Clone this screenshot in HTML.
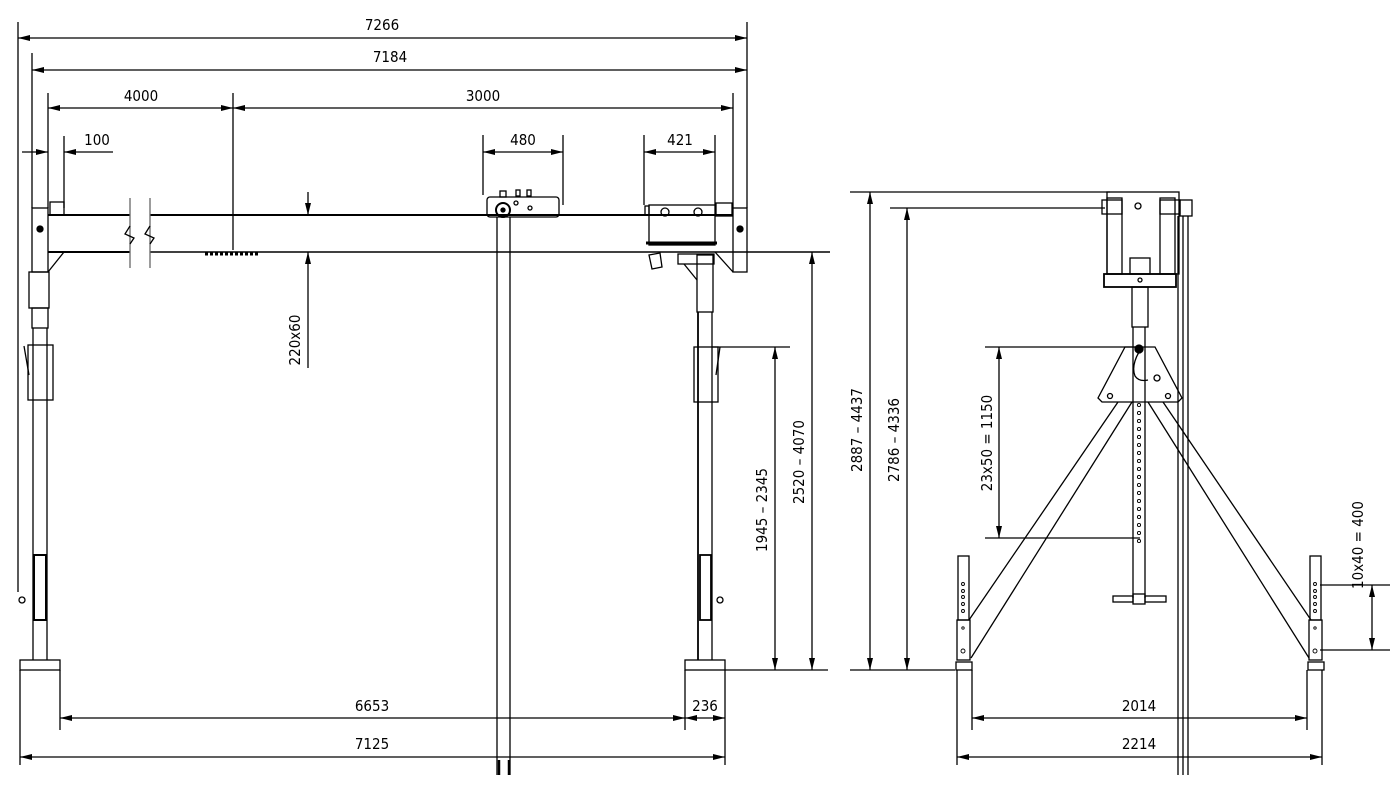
<!DOCTYPE html>
<html><head><meta charset="utf-8"><style>
html,body{margin:0;padding:0;background:#fff;}
svg{display:block}
text{font-family:"DejaVu Sans Condensed","Liberation Sans",sans-serif;font-size:15px;fill:#000;}
</style></head><body>
<svg width="1400" height="800" viewBox="0 0 1400 800" xmlns="http://www.w3.org/2000/svg">
<defs>
<marker id="a" viewBox="0 0 12 6" refX="12" refY="3" markerWidth="12" markerHeight="6" orient="auto-start-reverse" markerUnits="userSpaceOnUse"><path d="M0,0 L12,3 L0,6 z" fill="#000"/></marker>
</defs>
<g stroke="#000" stroke-width="1.3" fill="none">
<!-- extension lines top -->
<line x1="18" y1="22" x2="18" y2="592"/>
<line x1="32" y1="53" x2="32" y2="208"/>
<line x1="48" y1="93" x2="48" y2="208"/>
<line x1="64" y1="136" x2="64" y2="208"/>
<line x1="233" y1="93" x2="233" y2="250"/>
<line x1="733" y1="93" x2="733" y2="208"/>
<line x1="747" y1="22" x2="747" y2="208"/>
<line x1="483" y1="135" x2="483" y2="195"/>
<line x1="563" y1="135" x2="563" y2="205"/>
<line x1="644" y1="135" x2="644" y2="205"/>
<line x1="715" y1="135" x2="715" y2="205"/>
<!-- top dims -->
<line x1="18" y1="38" x2="747" y2="38" marker-start="url(#a)" marker-end="url(#a)"/>
<line x1="32" y1="70" x2="747" y2="70" marker-start="url(#a)" marker-end="url(#a)"/>
<line x1="48" y1="108" x2="233" y2="108" marker-start="url(#a)" marker-end="url(#a)"/>
<line x1="233" y1="108" x2="733" y2="108" marker-start="url(#a)" marker-end="url(#a)"/>
<line x1="22" y1="152" x2="48" y2="152" marker-end="url(#a)"/>
<line x1="113" y1="152" x2="64" y2="152" marker-end="url(#a)"/>
<line x1="483" y1="152" x2="563" y2="152" marker-start="url(#a)" marker-end="url(#a)"/>
<line x1="644" y1="152" x2="715" y2="152" marker-start="url(#a)" marker-end="url(#a)"/>
<!-- beam -->
<line x1="48" y1="215" x2="130" y2="215" stroke-width="2"/>
<line x1="150" y1="215" x2="733" y2="215" stroke-width="2"/>
<line x1="48" y1="252" x2="130" y2="252" stroke-width="2"/>
<line x1="150" y1="252" x2="830" y2="252" stroke-width="1.6"/>
<line x1="130" y1="198" x2="130" y2="268" stroke="#666"/>
<line x1="150" y1="198" x2="150" y2="268" stroke="#666"/>
<polyline points="130,226 125,234 134,238 130,244"/>
<polyline points="150,226 145,234 154,238 150,244"/>
<line x1="205" y1="254" x2="260" y2="254" stroke-width="3" stroke-dasharray="3,2"/>
<!-- left end -->
<rect x="32" y="208" width="16" height="64"/>
<circle cx="40" cy="229" r="3" fill="#000"/>
<rect x="50" y="202" width="14" height="13"/>
<line x1="48" y1="272" x2="64" y2="252"/>
<rect x="29" y="272" width="20" height="36"/>
<rect x="32" y="308" width="16" height="20"/>
<line x1="33" y1="328" x2="33" y2="660"/>
<line x1="47" y1="328" x2="47" y2="660"/>
<rect x="28" y="345" width="25" height="55"/>
<line x1="24" y1="346" x2="29" y2="375"/>
<rect x="34" y="555" width="12" height="65" stroke-width="2"/>
<rect x="20" y="660" width="40" height="10"/>
<circle cx="22" cy="600" r="3"/>
<!-- right end plate -->
<rect x="733" y="208" width="14" height="64"/>
<circle cx="740" cy="229" r="3" fill="#000"/>
<rect x="716" y="203" width="16" height="13"/>
<line x1="715" y1="252" x2="733" y2="272"/>
<!-- trolley -->
<rect x="487" y="197" width="72" height="20" rx="3"/>
<circle cx="503" cy="210" r="7" stroke-width="2"/>
<circle cx="503" cy="210" r="2" fill="#000"/>
<rect x="500" y="191" width="6" height="6"/>
<rect x="516" y="190" width="4" height="6"/>
<rect x="527" y="190" width="4" height="6"/>
<circle cx="516" cy="203" r="2"/>
<circle cx="530" cy="208" r="2"/>
<line x1="497" y1="217" x2="497" y2="775"/>
<line x1="510" y1="217" x2="510" y2="775"/>
<line x1="499" y1="760" x2="499" y2="775" stroke-width="2.5"/>
<line x1="509" y1="760" x2="509" y2="775" stroke-width="2.5"/>
<!-- hoist -->
<rect x="649" y="205" width="66" height="40"/>
<rect x="645" y="206" width="4" height="9"/>
<circle cx="665" cy="212" r="4"/>
<circle cx="698" cy="212" r="4"/>
<line x1="646" y1="243" x2="717" y2="243" stroke-width="3"/>
<rect x="678" y="254" width="36" height="10"/>
<polygon points="649,255 660,253 662,267 652,269"/>
<line x1="684" y1="264" x2="697" y2="280"/>
<!-- right post -->
<rect x="697" y="255" width="16" height="57"/>
<line x1="698" y1="312" x2="698" y2="660" stroke-width="1.8"/>
<line x1="712" y1="312" x2="712" y2="660"/>
<rect x="694" y="347" width="24" height="55"/>
<line x1="720" y1="347" x2="716" y2="375"/>
<rect x="700" y="555" width="11" height="65" stroke-width="1.8"/>
<circle cx="720" cy="600" r="3"/>
<rect x="685" y="660" width="40" height="10"/>
<!-- 220x60 -->
<line x1="308" y1="192" x2="308" y2="215" marker-end="url(#a)"/>
<line x1="308" y1="368" x2="308" y2="252" marker-end="url(#a)"/>
<!-- right dims front -->
<line x1="712" y1="347" x2="790" y2="347"/>
<line x1="725" y1="670" x2="828" y2="670"/>
<line x1="775" y1="347" x2="775" y2="670" marker-start="url(#a)" marker-end="url(#a)"/>
<line x1="812" y1="252" x2="812" y2="670" marker-start="url(#a)" marker-end="url(#a)"/>
<!-- bottom dims -->
<line x1="20" y1="670" x2="20" y2="765"/>
<line x1="60" y1="670" x2="60" y2="730"/>
<line x1="685" y1="670" x2="685" y2="730"/>
<line x1="725" y1="670" x2="725" y2="765"/>
<line x1="60" y1="718" x2="685" y2="718" marker-start="url(#a)" marker-end="url(#a)"/>
<line x1="685" y1="718" x2="725" y2="718" marker-start="url(#a)" marker-end="url(#a)"/>
<line x1="20" y1="757" x2="725" y2="757" marker-start="url(#a)" marker-end="url(#a)"/>
<!-- side view dims -->
<line x1="850" y1="192" x2="1110" y2="192"/>
<line x1="890" y1="208" x2="1105" y2="208"/>
<line x1="850" y1="670" x2="955" y2="670"/>
<line x1="870" y1="192" x2="870" y2="670" marker-start="url(#a)" marker-end="url(#a)"/>
<line x1="907" y1="208" x2="907" y2="670" marker-start="url(#a)" marker-end="url(#a)"/>
<line x1="985" y1="347" x2="1140" y2="347"/>
<line x1="985" y1="538" x2="1140" y2="538"/>
<line x1="999" y1="347" x2="999" y2="538" marker-start="url(#a)" marker-end="url(#a)"/>
<line x1="1320" y1="585" x2="1390" y2="585"/>
<line x1="1320" y1="650" x2="1390" y2="650"/>
<line x1="1372" y1="585" x2="1372" y2="650" marker-start="url(#a)" marker-end="url(#a)"/>
<line x1="957" y1="670" x2="957" y2="765"/>
<line x1="972" y1="670" x2="972" y2="730"/>
<line x1="1307" y1="670" x2="1307" y2="730"/>
<line x1="1322" y1="670" x2="1322" y2="765"/>
<line x1="972" y1="718" x2="1307" y2="718" marker-start="url(#a)" marker-end="url(#a)"/>
<line x1="957" y1="757" x2="1322" y2="757" marker-start="url(#a)" marker-end="url(#a)"/>
<!-- side head -->
<rect x="1107" y="192" width="72" height="82"/>
<rect x="1107" y="198" width="15" height="76"/>
<rect x="1160" y="198" width="15" height="76"/>
<rect x="1102" y="200" width="20" height="14"/>
<rect x="1160" y="200" width="20" height="14"/>
<rect x="1180" y="200" width="12" height="16"/>
<circle cx="1138" cy="206" r="3"/>
<rect x="1130" y="258" width="20" height="16"/>
<rect x="1104" y="274" width="72" height="13" stroke-width="1.8"/>
<circle cx="1140" cy="280" r="2"/>
<rect x="1132" y="287" width="16" height="40"/>
<line x1="1133" y1="327" x2="1133" y2="598"/>
<line x1="1145" y1="327" x2="1145" y2="598"/>
<!-- triangle plate -->
<polygon points="1125,347 1155,347 1182,398 1178,402 1102,402 1098,398"/>
<circle cx="1139" cy="349" r="4" fill="#000"/>
<path d="M1139,352 q-8,14 -4,24 q4,6 13,4"/>
<circle cx="1157" cy="378" r="3"/>
<circle cx="1110" cy="396" r="2.5"/>
<circle cx="1168" cy="396" r="2.5"/>
<!-- legs -->
<line x1="1118" y1="402" x2="969" y2="620"/>
<line x1="1132" y1="402" x2="971" y2="658"/>
<line x1="1148" y1="402" x2="1309" y2="658"/>
<line x1="1163" y1="402" x2="1311" y2="620"/>
<rect x="958" y="556" width="11" height="64"/>
<rect x="957" y="620" width="13" height="40"/>
<rect x="956" y="662" width="16" height="8"/>
<rect x="1310" y="556" width="11" height="64"/>
<rect x="1309" y="620" width="13" height="40"/>
<rect x="1308" y="662" width="16" height="8"/>
<!-- foot bars -->
<rect x="1113" y="596" width="20" height="6"/>
<rect x="1145" y="596" width="21" height="6"/>
<rect x="1133" y="594" width="12" height="10"/>
<!-- rails -->
<line x1="1178" y1="216" x2="1178" y2="775"/>
<line x1="1183" y1="216" x2="1183" y2="775"/>
<line x1="1188" y1="216" x2="1188" y2="775"/>
</g>
<g fill="none" stroke="#000" stroke-width="0.9">
<circle cx="1139" cy="405" r="1.6"/><circle cx="1139" cy="413" r="1.6"/><circle cx="1139" cy="421" r="1.6"/><circle cx="1139" cy="429" r="1.6"/><circle cx="1139" cy="437" r="1.6"/><circle cx="1139" cy="445" r="1.6"/><circle cx="1139" cy="453" r="1.6"/><circle cx="1139" cy="461" r="1.6"/><circle cx="1139" cy="469" r="1.6"/><circle cx="1139" cy="477" r="1.6"/><circle cx="1139" cy="485" r="1.6"/><circle cx="1139" cy="493" r="1.6"/><circle cx="1139" cy="501" r="1.6"/><circle cx="1139" cy="509" r="1.6"/><circle cx="1139" cy="517" r="1.6"/><circle cx="1139" cy="525" r="1.6"/><circle cx="1139" cy="533" r="1.6"/><circle cx="1139" cy="541" r="1.6"/>
<circle cx="963" cy="584" r="1.5"/><circle cx="963" cy="591" r="1.5"/><circle cx="963" cy="597" r="1.5"/><circle cx="963" cy="604" r="1.5"/><circle cx="963" cy="611" r="1.5"/><circle cx="963" cy="628" r="1.2"/><circle cx="963" cy="651" r="2"/>
<circle cx="1315" cy="584" r="1.5"/><circle cx="1315" cy="591" r="1.5"/><circle cx="1315" cy="597" r="1.5"/><circle cx="1315" cy="604" r="1.5"/><circle cx="1315" cy="611" r="1.5"/><circle cx="1315" cy="628" r="1.2"/><circle cx="1315" cy="651" r="2"/>
</g>
<g>
<text x="382" y="30" text-anchor="middle">7266</text>
<text x="390" y="62" text-anchor="middle">7184</text>
<text x="141" y="101" text-anchor="middle">4000</text>
<text x="483" y="101" text-anchor="middle">3000</text>
<text x="97" y="145" text-anchor="middle">100</text>
<text x="523" y="145" text-anchor="middle">480</text>
<text x="680" y="145" text-anchor="middle">421</text>
<text transform="translate(300,340) rotate(-90)" text-anchor="middle">220x60</text>
<text transform="translate(767,510) rotate(-90)" text-anchor="middle">1945 – 2345</text>
<text transform="translate(804,462) rotate(-90)" text-anchor="middle">2520 – 4070</text>
<text transform="translate(862,430) rotate(-90)" text-anchor="middle">2887 – 4437</text>
<text transform="translate(899,440) rotate(-90)" text-anchor="middle">2786 – 4336</text>
<text transform="translate(992,443) rotate(-90)" text-anchor="middle">23x50 = 1150</text>
<text transform="translate(1363,545) rotate(-90)" text-anchor="middle">10x40 = 400</text>
<text x="372" y="711" text-anchor="middle">6653</text>
<text x="705" y="711" text-anchor="middle">236</text>
<text x="372" y="749" text-anchor="middle">7125</text>
<text x="1139" y="711" text-anchor="middle">2014</text>
<text x="1139" y="749" text-anchor="middle">2214</text>
</g>
</svg>
</body></html>
